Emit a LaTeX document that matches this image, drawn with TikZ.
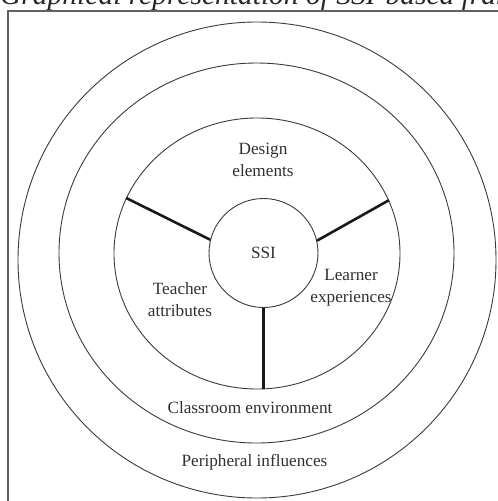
\documentclass[tikz,border=0pt]{standalone}
\usepackage{fontspec}
\setmainfont{Liberation Serif}
\usetikzlibrary{shapes.geometric}
\definecolor{ringgray}{HTML}{3A3A3A}
\definecolor{txtgray}{HTML}{303030}
\tikzset{
  ring/.style={draw=ringgray, line width=0.9pt, ellipse, inner sep=0pt, fill=none},
  spoke/.style={draw=black!90, line width=2.6pt},
  lbl/.style={text=txtgray, font=\fontsize{17.2}{22}\selectfont, align=center, inner sep=0pt},
  frameline/.style={draw=ringgray!80, line width=1.8pt}
}
\begin{document}
\begin{tikzpicture}[x=1pt,y=-1pt]
\useasboundingbox (0,0) rectangle (498,501);
\begin{scope}
\clip (0,0) rectangle (498,501);
% caption fragment (cut off at the top, as in the reference)
\node[anchor=base west, inner sep=0pt, text=black!85, font=\fontsize{29.5}{32}\selectfont\itshape] (title) at (0,4) {Graphical representation of SSI-based framework};
% frame
\draw[frameline] (8,520) -- (8,11) -- (520,11);
% rings
\node[ring, minimum width=478pt, minimum height=476pt] (outer) at (257,260) {};
\node[ring, minimum width=395pt, minimum height=380pt] (middle) at (256.5,253) {};
\node[ring, minimum width=286pt, minimum height=271pt] (inner) at (257,253.5) {};
\node[draw=ringgray, line width=0.9pt, circle, minimum size=109pt, inner sep=0pt, text=txtgray, font=\fontsize{17.2}{22}\selectfont] (ssi) at (263.5,253) {SSI};
% spokes
\draw[spoke] (ssi.166.6) -- (inner.157.6);
\draw[spoke] (ssi.13.7) -- (inner.22.7);
\draw[spoke] (ssi.south) -- (ssi.south |- inner.south);
% labels
\node[lbl] (design) at (263,160) {Design\\elements};
\node[lbl] (teacher) at (180,300) {Teacher\\attributes};
\node[lbl] (learner) at (351,288) {Learner\\experiences};
\node[lbl] (classroom) at (250,408) {Classroom environment};
\node[lbl] (peripheral) at (254.5,462) {Peripheral influences};
\end{scope}
\end{tikzpicture}
\end{document}
